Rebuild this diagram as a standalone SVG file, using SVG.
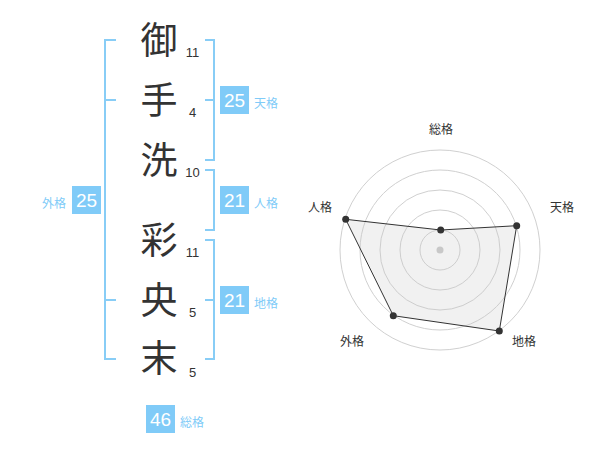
<svg xmlns="http://www.w3.org/2000/svg" width="600" height="470" viewBox="0 0 600 470">
<style>
.k{font-family:"Noto Sans CJK JP","Noto Sans CJK SC",sans-serif;font-size:37px;fill:#333;text-anchor:middle}
.n{font-family:"Liberation Sans",Arial,sans-serif;font-size:13px;fill:#333;text-anchor:middle}
.br{fill:none;stroke:#88cdf6;stroke-width:2}
.bx{fill:#80cbf8}
.bt{font-family:"Liberation Sans",Arial,sans-serif;font-size:19px;fill:#fff;text-anchor:middle}
.lb{font-family:"Noto Sans CJK JP","Noto Sans CJK SC",sans-serif;font-size:12px;fill:#80cbf8}
.rl{font-family:"Noto Sans CJK JP","Noto Sans CJK SC",sans-serif;font-size:12px;fill:#333;text-anchor:middle}
.ring{fill:none;stroke:#d0d0d0;stroke-width:1}
</style>
<rect width="600" height="470" fill="#fff"/>
<g id="connectors">
<path class="br" d="M116,40 H105 V359 H116 M105,100 H116 M105,300 H116"/>
<path class="br" d="M205,40 H214 V160 H205 M205,100 H214"/>
<path class="br" d="M205,170 H214 V230 H205"/>
<path class="br" d="M205,240 H214 V359 H205 M205,300 H214"/>
</g>
<g id="chars">
<text class="k" x="159" y="54">御</text>
<text class="n" x="192.5" y="57">11</text>
<text class="k" x="159" y="114">手</text>
<text class="n" x="192.5" y="117">4</text>
<text class="k" x="159" y="174">洗</text>
<text class="n" x="192.5" y="177">10</text>
<text class="k" x="159" y="254">彩</text>
<text class="n" x="192.5" y="257">11</text>
<text class="k" x="159" y="314">央</text>
<text class="n" x="192.5" y="317">5</text>
<text class="k" x="159" y="372">末</text>
<text class="n" x="192.5" y="377">5</text>
</g>
<g id="gaikaku">
<rect class="bx" x="72" y="186" width="29" height="28"/>
<text class="bt" x="86.5" y="207">25</text>
<text class="lb" x="66" y="208" text-anchor="end">外格</text>
</g>
<g id="tenkaku">
<rect class="bx" x="220" y="86" width="29" height="28"/>
<text class="bt" x="234.5" y="107">25</text>
<text class="lb" x="254" y="108">天格</text>
</g>
<g id="jinkaku">
<rect class="bx" x="220" y="186" width="29" height="28"/>
<text class="bt" x="234.5" y="207">21</text>
<text class="lb" x="254" y="208">人格</text>
</g>
<g id="chikaku">
<rect class="bx" x="220" y="286" width="29" height="28"/>
<text class="bt" x="234.5" y="307">21</text>
<text class="lb" x="254" y="308">地格</text>
</g>
<g id="soukaku">
<rect class="bx" x="146" y="405" width="29" height="28"/>
<text class="bt" x="160.5" y="426">46</text>
<text class="lb" x="180" y="427">総格</text>
</g>
<g id="radar">
<circle class="ring" cx="440" cy="250" r="20"/>
<circle class="ring" cx="440" cy="250" r="40"/>
<circle class="ring" cx="440" cy="250" r="60"/>
<circle class="ring" cx="440" cy="250" r="80"/>
<circle class="ring" cx="440" cy="250" r="100"/>
<circle cx="440" cy="250" r="3.5" fill="#c8c8c8"/>
<polygon points="440.7,230 516.7,225.7 499.3,331 393.3,315.7 345.7,219.3" fill="rgba(200,200,200,0.25)" stroke="#333" stroke-width="1"/>
<g fill="#333">
<circle cx="440.7" cy="230" r="3.5"/>
<circle cx="516.7" cy="225.7" r="3.5"/>
<circle cx="499.3" cy="331" r="3.5"/>
<circle cx="393.3" cy="315.7" r="3.5"/>
<circle cx="345.7" cy="219.3" r="3.5"/>
</g>
<text class="rl" x="441" y="134">総格</text>
<text class="rl" x="562" y="212">天格</text>
<text class="rl" x="320" y="212">人格</text>
<text class="rl" x="352" y="346">外格</text>
<text class="rl" x="524" y="346">地格</text>
</g>
</svg>
